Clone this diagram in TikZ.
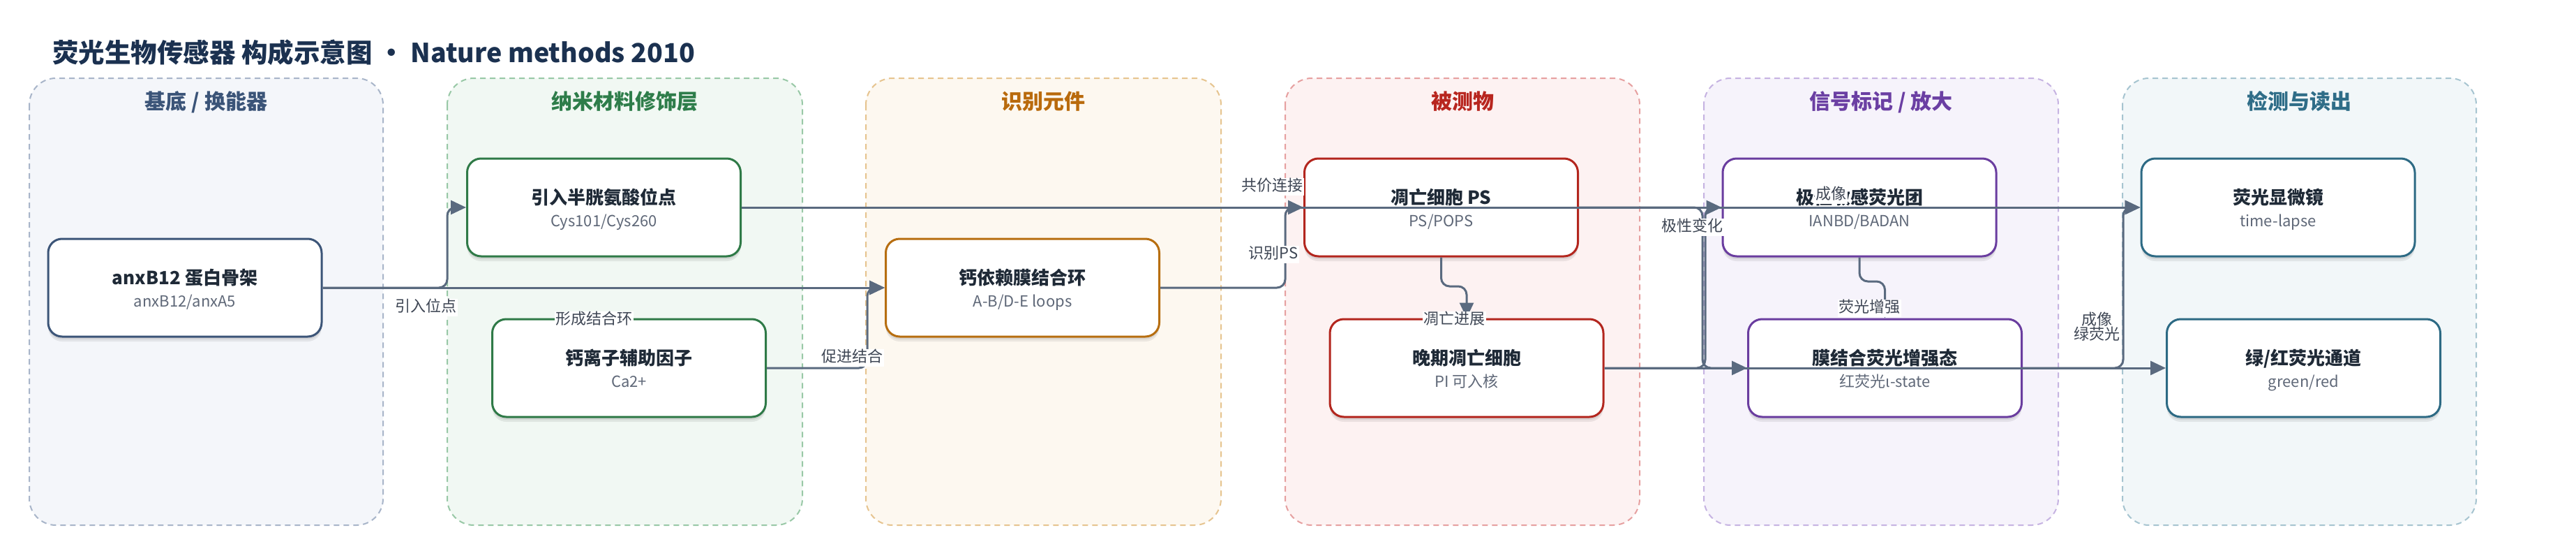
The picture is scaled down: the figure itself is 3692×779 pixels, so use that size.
\documentclass[tikz,border=0pt]{standalone}
\usepackage{fontspec}
\setmainfont{Noto Sans CJK SC}
\usetikzlibrary{arrows.meta,shadows,calc}
\definecolor{titlec}{HTML}{1B3150}
\definecolor{ttlc}{HTML}{1F2A37}
\definecolor{subc}{HTML}{5F6878}
\definecolor{edgec}{HTML}{5A6A7F}
\definecolor{labc}{HTML}{3E4654}
\definecolor{fA}{HTML}{F4F6FA}\definecolor{bA}{HTML}{A8B5C9}\definecolor{tA}{HTML}{3B5478}\definecolor{nA}{HTML}{3C5578}
\definecolor{fB}{HTML}{F1F8F3}\definecolor{bB}{HTML}{98C8A6}\definecolor{tB}{HTML}{2E7D4A}\definecolor{nB}{HTML}{2F7A47}
\definecolor{fC}{HTML}{FDF8F0}\definecolor{bC}{HTML}{E6C48F}\definecolor{tC}{HTML}{B96A0C}\definecolor{nC}{HTML}{B76E10}
\definecolor{fD}{HTML}{FDF2F2}\definecolor{bD}{HTML}{E6A0A0}\definecolor{tD}{HTML}{B8261F}\definecolor{nD}{HTML}{B3261E}
\definecolor{fE}{HTML}{F6F3FB}\definecolor{bE}{HTML}{C6B3E2}\definecolor{tE}{HTML}{6B3FA3}\definecolor{nE}{HTML}{6A3D9F}
\definecolor{fF}{HTML}{F2F7F9}\definecolor{bF}{HTML}{A6C4D0}\definecolor{tF}{HTML}{2F6D88}\definecolor{nF}{HTML}{2D6A84}
\tikzset{
  lanebox/.style={line width=2pt, dash pattern=on 8pt off 6pt, rounded corners=38pt},
  lanettl/.style={anchor=base, inner sep=0pt, font=\bfseries\fontsize{30}{34}\selectfont},
  box/.style={draw, fill=white, line width=3pt, rounded corners=20pt, minimum width=392pt, minimum height=140pt, inner sep=0pt,
    drop shadow={shadow xshift=0pt, shadow yshift=-7pt, opacity=0.07, fill=black},
    drop shadow={shadow xshift=0pt, shadow yshift=-4pt, opacity=0.07, fill=black}},
  ttl/.style={anchor=base, inner sep=0pt, text=ttlc, font=\bfseries\fontsize{26}{30}\selectfont},
  subt/.style={anchor=base, inner sep=0pt, text=subc, font=\fontsize{22}{26}\selectfont},
  edge/.style={draw=edgec, line width=3pt, rounded corners=12pt, -{Triangle[length=22pt,width=20pt]}},
  lbl/.style={fill=white, inner sep=1.5pt, text height=17pt, text depth=5pt, text=labc, font=\fontsize{22}{24}\selectfont},
}
\begin{document}
\begin{tikzpicture}[x=1pt,y=-1pt]
\useasboundingbox (0,0) rectangle (3692,779);
\fill[white] (0,0) rectangle (3692,779);
% title
\node[anchor=base west, inner sep=0pt, text=titlec, font=\bfseries\fontsize{37.5}{44}\selectfont] (title) at (75,89) {荧光生物传感器 构成示意图 • Nature methods 2010};
% lanes
\draw[lanebox, fill=fA, draw=bA] (42,112) rectangle (549,752);
\draw[lanebox, fill=fB, draw=bB] (641,112) rectangle (1150,752);
\draw[lanebox, fill=fC, draw=bC] (1241,112) rectangle (1750,752);
\draw[lanebox, fill=fD, draw=bD] (1842,112) rectangle (2350,752);
\draw[lanebox, fill=fE, draw=bE] (2442,112) rectangle (2950,752);
\draw[lanebox, fill=fF, draw=bF] (3042,112) rectangle (3549,752);
\node[lanettl, text=tA] (h1) at (295.5,156) {基底 / 换能器};
\node[lanettl, text=tB] (h2) at (895.5,156) {纳米材料修饰层};
\node[lanettl, text=tC] (h3) at (1495.5,156) {识别元件};
\node[lanettl, text=tD] (h4) at (2096,156) {被测物};
\node[lanettl, text=tE] (h5) at (2696,156) {信号标记 / 放大};
\node[lanettl, text=tF] (h6) at (3295.5,156) {检测与读出};
% nodes
\node[box, draw=nA] (anx) at (265,412) {};
\node[box, draw=nB] (inc) at (865.5,297) {};
\node[box, draw=nB] (ca) at (901.5,527) {};
\node[box, draw=nC] (loop) at (1465.5,412) {};
\node[box, draw=nD] (ps) at (2065.5,297) {};
\node[box, draw=nD] (late) at (2102,527) {};
\node[box, draw=nE] (pol) at (2665,297) {};
\node[box, draw=nE] (mem) at (2701.5,527) {};
\node[box, draw=nF] (mic) at (3265,297) {};
\node[box, draw=nF] (ch) at (3301.5,527) {};
% node texts
\foreach \n/\t/\s in {anx/{anxB12 蛋白骨架}/{anxB12/anxA5}, inc/{引入半胱氨酸位点}/{Cys101/Cys260}, ca/{钙离子辅助因子}/{Ca2+}, loop/{钙依赖膜结合环}/{A-B/D-E loops}, ps/{凋亡细胞 PS}/{PS/POPS}, late/{晚期凋亡细胞}/{PI 可入核}, pol/{极性敏感荧光团}/{IANBD/BADAN}, mem/{膜结合荧光增强态}/{红荧光ι-state}, mic/{荧光显微镜}/{time-lapse}, ch/{绿/红荧光通道}/{green/red}}{
  \node[ttl] (\n-t) at ($(\n.center)+(0,-5)$) {\t};
  \node[subt] (\n-s) at ($(\n.center)+(0,27)$) {\s};
}
% edges
\draw[edge] (anx.east) -- (641,412) -- (641,297) -- (inc.west);
\draw[edge] (anx.east) -- (loop.west);
\draw[edge] (ca.east) -- (1243,527) -- (1243,412) -- (loop.west);
\draw[edge] (inc.east) -- (mic.west);
\draw[edge] (loop.east) -- (1842,412) -- (1842,297) -- (ps.west);
\draw[edge] (ps.south) -- (2065.5,410) -- (2102,410) -- (late.north);
\draw[edge] (ps.east) -- (2440,297) -- (2440,527) -- (mem.west);
\draw[edge] (late.east) -- (2444,527) -- (2444,297) -- (pol.west);
\draw[edge] (late.east) -- (ch.west);
\draw[edge] (pol.south) -- (2665,403) -- (2701.5,403) -- (mem.north);
\draw[edge] (mem.east) -- (3043,527) -- (3043,297) -- (mic.west);
% edge labels
\node[lbl] (e1) at (610,440) {引入位点};
\node[lbl] (e2) at (851,458) {形成结合环};
\node[lbl] (e3) at (1221,512) {促进结合};
\node[lbl] (e4) at (1823,267) {共价连接};
\node[lbl] (e5) at (1825,364) {识别PS};
\node[lbl] (e6) at (2084,458) {凋亡进展};
\node[lbl] (e7) at (2425,325) {极性变化};
\node[lbl] (e8) at (2624,279) {成像};
\node[lbl] (e9) at (2679,441) {荧光增强};
\node[align=center, inner sep=0pt, text=labc, font=\fontsize{22}{21}\selectfont] (e10) at (3005,468) {成像\\绿荧光};
\end{tikzpicture}
\end{document}
